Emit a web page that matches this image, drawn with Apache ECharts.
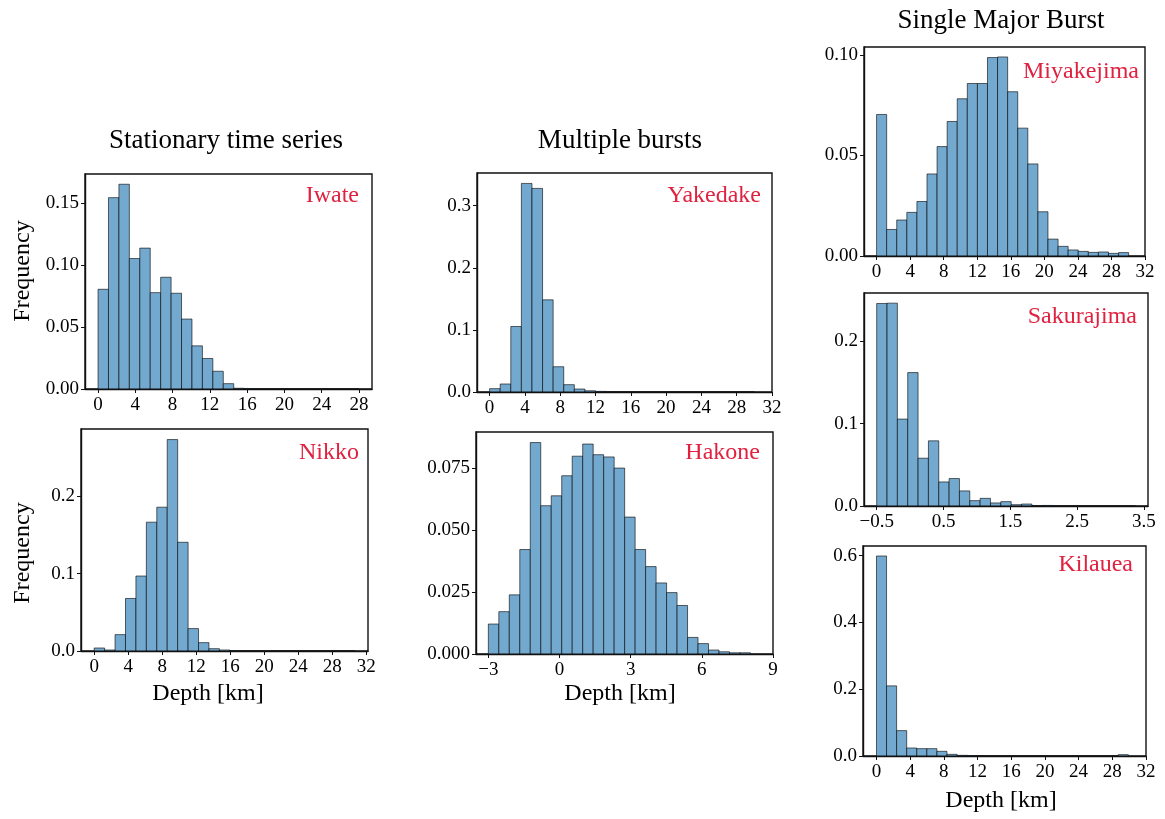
<!DOCTYPE html>
<html>
<head>
<meta charset="utf-8">
<script src="https://cdn.jsdelivr.net/npm/echarts@6/dist/echarts.min.js"></script>
<style>
  html, body { margin: 0; padding: 0; background: #fff; }
  #chart { width: 1165px; height: 819px; }
</style>
</head>
<body>
<div id="chart"></div>
<script>
// Hypocentre depth histograms: relative frequency in 25 equal-width bins.
// Each range is [first bin edge, last bin edge] in km.

const iwateRange = [0, 28];
const iwateFreq = [0.0804, 0.1543, 0.1651, 0.1052, 0.1136, 0.0777, 0.0901, 0.0772, 0.0564, 0.0348,
  0.0246, 0.0143, 0.0043, 0.0006, 0.0003, 0.0002, 0.0001, 0.0001, 0.0001, 0, 0, 0, 0, 0, 0.0001];

const nikkoRange = [0, 30.68];
const nikkoFreq = [0.0039, 0.0013, 0.0212, 0.068, 0.097, 0.1667, 0.1861, 0.2736, 0.1407, 0.029,
  0.0108, 0.003, 0.0013, 0.0004, 0.0002, 0.0001, 0, 0, 0, 0, 0, 0, 0, 0, 0.0001];

const yakedakeRange = [0, 30];
const yakedakeFreq = [0.0054, 0.0129, 0.1055, 0.3359, 0.3279, 0.1484, 0.0407, 0.0118, 0.0048, 0.002,
  0.001, 0.0004, 0.0002, 0.0001, 0.0001, 0.0001, 0, 0, 0, 0, 0, 0, 0, 0, 0.0001];

const hakoneRange = [-3, 8.05];
const hakoneFreq = [0.0121, 0.0171, 0.0239, 0.0422, 0.0854, 0.0599, 0.0639, 0.072, 0.0799, 0.0848,
  0.0805, 0.0796, 0.0751, 0.0553, 0.0422, 0.0353, 0.0287, 0.0248, 0.0196, 0.0067,
  0.0042, 0.0016, 0.0009, 0.0005, 0.0005];

const miyakejimaRange = [0, 30.05];
const miyakejimaFreq = [0.0704, 0.0132, 0.0179, 0.0217, 0.0271, 0.0408, 0.0544, 0.0669, 0.0782, 0.0858,
  0.0858, 0.0987, 0.099, 0.0817, 0.0636, 0.0458, 0.022, 0.0084, 0.0048, 0.003,
  0.0023, 0.0018, 0.002, 0.0013, 0.0017];

const sakurajimaRange = [-0.5, 3.37];
const sakurajimaFreq = [0.2458, 0.2462, 0.1055, 0.1619, 0.058, 0.0791, 0.0292, 0.0333, 0.0183, 0.0065,
  0.0093, 0.0037, 0.0053, 0.0016, 0.0024, 0.0004, 0.0007, 0.0002, 0.0002, 0.0001,
  0.0001, 0, 0, 0, 0.0001];

const kilaueaRange = [0, 29.9];
const kilaueaFreq = [0.599, 0.21, 0.076, 0.024, 0.022, 0.022, 0.014, 0.005, 0.002, 0.001,
  0.0005, 0.0003, 0.0002, 0.0001, 0, 0, 0, 0, 0, 0, 0, 0, 0, 0, 0.004];

// Tick values
const depthTicks28 = [0, 4, 8, 12, 16, 20, 24, 28];
const depthTicks32 = [0, 4, 8, 12, 16, 20, 24, 28, 32];
const hakoneDepthTicks = [-3, 0, 3, 6, 9];
const sakurajimaDepthTicks = [-0.5, 0.5, 1.5, 2.5, 3.5];
const iwateFreqTicks = [0, 0.05, 0.10, 0.15];
const nikkoFreqTicks = [0, 0.1, 0.2];
const yakedakeFreqTicks = [0, 0.1, 0.2, 0.3];
const hakoneFreqTicks = [0, 0.025, 0.050, 0.075];
const miyakejimaFreqTicks = [0, 0.05, 0.10];
const sakurajimaFreqTicks = [0, 0.1, 0.2];
const kilaueaFreqTicks = [0, 0.2, 0.4, 0.6];

// Group headings and axis titles
const groupTitles = ['Stationary time series', 'Multiple bursts', 'Single Major Burst'];
const freqLabel = 'Frequency';
const depthLabel = 'Depth [km]';

// Panel layout: plot box [left, top, width, height], x limits, volcano label anchor
const panels = [
  { name: 'Iwate', range: iwateRange, freq: iwateFreq, xTicks: depthTicks28, yTicks: iwateFreqTicks,
    xDigits: 0, yDigits: 2, box: [85, 174, 287, 215], xLim: [-1.4, 29.4], label: [359, 196] },
  { name: 'Nikko', range: nikkoRange, freq: nikkoFreq, xTicks: depthTicks32, yTicks: nikkoFreqTicks,
    xDigits: 0, yDigits: 1, box: [81, 429, 287, 222], xLim: [-1.55, 32.2], label: [359, 453] },
  { name: 'Yakedake', range: yakedakeRange, freq: yakedakeFreq, xTicks: depthTicks32, yTicks: yakedakeFreqTicks,
    xDigits: 0, yDigits: 1, box: [477, 173, 295, 219], xLim: [-1.43, 32], label: [761, 196] },
  { name: 'Hakone', range: hakoneRange, freq: hakoneFreq, xTicks: hakoneDepthTicks, yTicks: hakoneFreqTicks,
    xDigits: 0, yDigits: 3, box: [476, 432, 297, 222], xLim: [-3.52, 9.0], label: [760, 453] },
  { name: 'Miyakejima', range: miyakejimaRange, freq: miyakejimaFreq, xTicks: depthTicks32, yTicks: miyakejimaFreqTicks,
    xDigits: 0, yDigits: 2, box: [864, 47, 281, 209], xLim: [-1.5, 32], label: [1139, 72] },
  { name: 'Sakurajima', range: sakurajimaRange, freq: sakurajimaFreq, xTicks: sakurajimaDepthTicks, yTicks: sakurajimaFreqTicks,
    xDigits: 1, yDigits: 1, box: [864, 293, 284, 213], xLim: [-0.69, 3.56], label: [1137, 317] },
  { name: 'Kilauea', range: kilaueaRange, freq: kilaueaFreq, xTicks: depthTicks32, yTicks: kilaueaFreqTicks,
    xDigits: 0, yDigits: 1, box: [863, 546, 283, 210], xLim: [-1.6, 32], label: [1133, 565] }
];

const SERIF = '"Liberation Serif", "DejaVu Serif", serif';
const BAR_FILL = '#74a9cf';
const BAR_EDGE = 'rgba(0,0,0,0.6)';
const NAME_RED = '#e0213f';

function fmt(v, digits) {
  const s = Math.abs(v).toFixed(digits);
  return (v < 0 ? '\u2212' : '') + s;
}

// Bins [start, end, frequency] derived from each histogram's range and bin count
function toBins(range, freq) {
  const w = (range[1] - range[0]) / freq.length;
  return freq.map((f, i) => [range[0] + i * w, range[0] + (i + 1) * w, f]);
}

function renderBin(params, api) {
  const topLeft = api.coord([api.value(0), api.value(2)]);
  const bottomRight = api.coord([api.value(1), 0]);
  return {
    type: 'rect',
    shape: {
      x: topLeft[0],
      y: topLeft[1],
      width: bottomRight[0] - topLeft[0],
      height: bottomRight[1] - topLeft[1]
    },
    style: { fill: BAR_FILL, stroke: BAR_EDGE, lineWidth: 1 }
  };
}

const grids = [], xAxes = [], yAxes = [], series = [], graphics = [];

panels.forEach((p, i) => {
  const [left, top, width, height] = p.box;
  grids.push({
    left, top, width, height,
    containLabel: false,
    outerBoundsMode: 'none',
    show: true,
    backgroundColor: '#fff',
    borderColor: '#111',
    borderWidth: 1.4
  });
  xAxes.push({
    type: 'value',
    gridIndex: i,
    min: p.xLim[0],
    max: p.xLim[1],
    z: 5,
    splitLine: { show: false },
    axisLine: { show: true, onZero: false, lineStyle: { color: '#111', width: 1.4 } },
    axisTick: { show: true, inside: false, length: 4, customValues: p.xTicks, lineStyle: { color: '#111', width: 1 } },
    axisLabel: {
      customValues: p.xTicks,
      margin: 7,
      color: '#000',
      fontFamily: SERIF,
      fontSize: 19,
      formatter: v => fmt(v, p.xDigits)
    }
  });
  yAxes.push({
    type: 'value',
    gridIndex: i,
    min: 0,
    max: 1.05 * Math.max(...p.freq),
    z: 5,
    splitLine: { show: false },
    axisLine: { show: true, onZero: false, lineStyle: { color: '#111', width: 1.4 } },
    axisTick: { show: true, inside: false, length: 4, customValues: p.yTicks, lineStyle: { color: '#111', width: 1 } },
    axisLabel: {
      customValues: p.yTicks,
      margin: 6,
      color: '#000',
      fontFamily: SERIF,
      fontSize: 19,
      formatter: v => fmt(v, p.yDigits)
    }
  });
  series.push({
    type: 'custom',
    name: p.name,
    xAxisIndex: i,
    yAxisIndex: i,
    clip: true,
    renderItem: renderBin,
    encode: { x: [0, 1], y: 2 },
    data: toBins(p.range, p.freq)
  });
  graphics.push({
    type: 'text',
    x: p.label[0],
    y: p.label[1],
    z: 10,
    style: {
      text: p.name,
      fill: NAME_RED,
      font: '24px ' + SERIF,
      textAlign: 'right',
      textVerticalAlign: 'middle'
    }
  });
});

function addText(text, x, y, size, rotation) {
  graphics.push({
    type: 'text',
    x, y,
    rotation: rotation || 0,
    z: 10,
    style: {
      text,
      fill: '#000',
      font: size + 'px ' + SERIF,
      textAlign: 'center',
      textVerticalAlign: 'middle'
    }
  });
}

addText(groupTitles[0], 226, 141, 27);
addText(groupTitles[1], 620, 141, 27);
addText(groupTitles[2], 1001, 21, 27);
addText(freqLabel, 23, 271, 24, Math.PI / 2);
addText(freqLabel, 23, 553, 24, Math.PI / 2);
addText(depthLabel, 208, 694, 24);
addText(depthLabel, 620, 694, 24);
addText(depthLabel, 1001, 801, 24);

const chart = echarts.init(document.getElementById('chart'), null, { renderer: 'canvas' });
chart.setOption({
  backgroundColor: '#fff',
  animation: false,
  grid: grids,
  xAxis: xAxes,
  yAxis: yAxes,
  series,
  graphic: graphics
});
</script>
</body>
</html>
